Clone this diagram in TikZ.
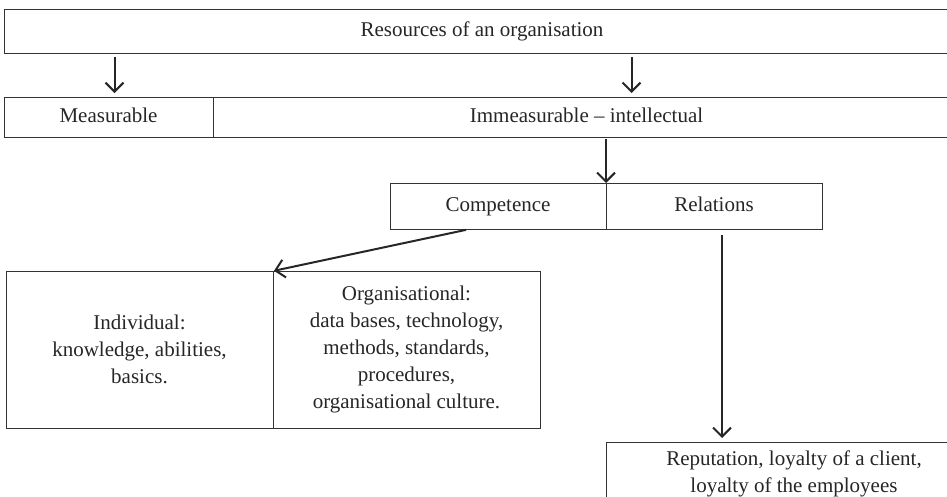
\documentclass[tikz,border=0pt]{standalone}
\usepackage{fontspec}
\setmainfont{Liberation Serif}
\usetikzlibrary{arrows.meta, positioning}

\begin{document}
\begin{tikzpicture}[
    x=1pt, y=-1pt,
    >={Straight Barb[length=9pt, width=18pt]},
    box/.style={rectangle, draw=black!80, line width=1pt, inner sep=0pt, outer sep=0pt,
        anchor=north west, align=center, text=black!85,
        font=\fontsize{21}{27}\selectfont},
    single/.style={text height=14pt, text depth=4pt},
    link/.style={->, line width=2pt, draw=black!85},
]
    \useasboundingbox (0,0) rectangle (947,496);
    \clip (0,0) rectangle (947,496);

    \node[box, single, minimum width=956, minimum height=44] (res) at (4,9) {Resources of an organisation};

    \node[box, single, minimum width=209, minimum height=40]              (meas)   at (4,97) {Measurable};
    \node[box, single, minimum width=747, minimum height=40, right=0pt of meas] (immeas) {Immeasurable -- intellectual};

    \node[box, single, minimum width=216, minimum height=46]              (comp) at (390,183) {Competence};
    \node[box, single, minimum width=216, minimum height=46, right=0pt of comp] (rel)  {Relations};

    \node[box, minimum width=267, minimum height=157]              (indiv) at (6,271)
        {Individual:\\knowledge, abilities,\\basics.};
    \node[box, minimum width=267, minimum height=157, right=0pt of indiv] (org)
        {Organisational:\\data bases, technology,\\methods, standards,\\procedures,\\organisational culture.};

    \node[box, minimum width=376, inner ysep=9pt, text depth=40pt] (rep) at (606,442)
        {Reputation, loyalty of a client,\\loyalty of the employees};

    \path
        ([xshift=6]meas.north |- res.south)    edge [link, shorten <=4pt, shorten >=4pt] ([xshift=6]meas.north)
        ([xshift=45]immeas.north |- res.south) edge [link, shorten <=4pt, shorten >=4pt] ([xshift=45]immeas.north)
        (comp.north east |- immeas.south)      edge [link, shorten <=2pt]                 (comp.north east)
        ([xshift=-28]comp.south)               edge [link, shorten <=4pt, shorten >=1pt] (indiv.north east)
        ([xshift=8]rel.south)                  edge [link, shorten <=6pt, shorten >=4pt] ([xshift=8]rel.south |- rep.north)
    ;
\end{tikzpicture}
\end{document}
